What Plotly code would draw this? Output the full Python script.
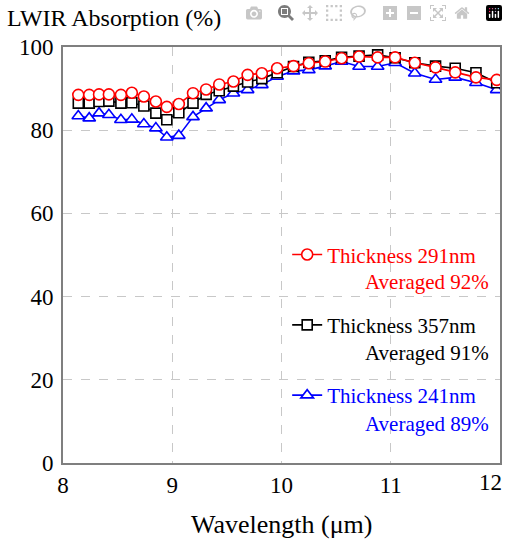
import plotly.graph_objects as go

wavelength = [8.14, 8.24, 8.33, 8.42, 8.53, 8.63, 8.74, 8.85, 8.95, 9.06,
              9.19, 9.31, 9.43, 9.56, 9.69, 9.82, 9.96, 10.11, 10.25, 10.40,
              10.55, 10.71, 10.88, 11.04, 11.22, 11.41, 11.59, 11.78, 11.97]

abs_291 = [88.5, 88.5, 88.6, 88.6, 88.5, 89.0, 88.1, 86.9, 85.6, 86.3,
           88.9, 89.8, 91.0, 91.7, 93.3, 93.7, 94.9, 95.4, 96.1, 96.5,
           97.3, 97.7, 97.5, 97.5, 96.2, 95.1, 93.9, 92.7, 92.1]

abs_357 = [86.5, 86.5, 86.9, 87.0, 86.5, 86.6, 85.8, 84.1, 82.5, 84.2,
           86.5, 88.6, 89.5, 90.6, 91.6, 92.4, 93.8, 95.3, 96.3, 96.7,
           97.5, 97.8, 98.1, 97.4, 96.2, 95.4, 94.9, 93.8, 91.4]

abs_241 = [83.4, 82.9, 84.1, 83.7, 82.5, 82.6, 81.5, 80.5, 78.3, 78.7,
           83.2, 85.3, 87.3, 88.9, 89.7, 90.9, 92.9, 94.2, 94.5, 95.4,
           96.5, 95.3, 95.3, 96.2, 93.7, 92.2, 92.7, 91.4, 89.7]

series_names = ["Thickness 291nm", "Thickness 357nm", "Thickness 241nm"]
series_colors = ["#FF0000", "#000000", "#0000FF"]
averages = ["Averaged 92%", "Averaged 91%", "Averaged 89%"]
x_ticks = [8, 9, 10, 11]
x_last_tick = "12"
y_ticks = [0, 20, 40, 60, 80, 100]

FONT = "Liberation Serif"


def colored(text, color):
    return '<span style="color:%s">%s</span>' % (color, text)


fig = go.Figure()

# draw order: blue, black, red (red on top); legend order red, black, blue
fig.add_trace(go.Scatter(
    x=wavelength, y=abs_241, mode="lines+markers",
    name=colored(series_names[2], series_colors[2]),
    legendgroup="g3", legendrank=3,
    line=dict(color=series_colors[2], width=1.6),
    marker=dict(symbol="triangle-up", size=11, color="white",
                line=dict(color=series_colors[2], width=1.6))))
fig.add_trace(go.Scatter(
    x=wavelength, y=abs_357, mode="lines+markers",
    name=colored(series_names[1], series_colors[1]),
    legendgroup="g2", legendrank=2,
    line=dict(color=series_colors[1], width=1.6),
    marker=dict(symbol="square", size=10, color="white",
                line=dict(color=series_colors[1], width=1.6))))
fig.add_trace(go.Scatter(
    x=wavelength, y=abs_291, mode="lines+markers",
    name=colored(series_names[0], series_colors[0]),
    legendgroup="g1", legendrank=1,
    line=dict(color=series_colors[0], width=1.6),
    marker=dict(symbol="circle", size=11, color="white",
                line=dict(color=series_colors[0], width=1.6))))

fig.update_layout(
    width=508, height=541, autosize=False,
    margin=dict(l=63, r=8, t=47, b=78),
    paper_bgcolor="white", plot_bgcolor="white",
    font=dict(family=FONT, color="black"),
    showlegend=True,
    legend=dict(x=0.513, y=0.332, xanchor="left", yanchor="middle",
                bgcolor="rgba(0,0,0,0)", borderwidth=0,
                traceorder="grouped", tracegroupgap=40,
                font=dict(family=FONT, size=21, color="black"),
                itemwidth=30),
    xaxis=dict(range=[8, 12], tickvals=x_ticks, showgrid=True, automargin=False,
               gridcolor="#c8c8c8", griddash="dash", gridwidth=1,
               showline=True, linecolor="#7f7f7f", linewidth=2, mirror=True,
               zeroline=False, ticks="",
               tickfont=dict(size=23, family=FONT, color="black")),
    yaxis=dict(range=[0, 100], tickvals=y_ticks, showgrid=True, automargin=False,
               gridcolor="#c8c8c8", griddash="dash", gridwidth=1,
               showline=True, linecolor="#7f7f7f", linewidth=2, mirror=True,
               zeroline=False, ticks="", ticklabelstandoff=3,
               tickfont=dict(size=23, family=FONT, color="black")),
)

# extra grid line at 12 is the frame; last tick label kept inside the window
fig.add_annotation(text=x_last_tick, xref="x", yref="paper", x=12, y=0,
                   xanchor="right", yanchor="top", xshift=4, yshift=-5,
                   showarrow=False, font=dict(family=FONT, size=23, color="black"))

fig.add_annotation(text="Wavelength (μm)", xref="paper", yref="paper",
                   x=0.5, y=-0.149, xanchor="center", yanchor="middle",
                   showarrow=False, font=dict(family=FONT, size=26, color="black"))

fig.add_annotation(text="LWIR Absorption (%)", xref="paper", yref="paper",
                   x=-0.126, y=1.07, xanchor="left", yanchor="middle", xshift=-3,
                   showarrow=False, font=dict(family=FONT, size=24, color="black"))

avg_y = [0.435, 0.264, 0.094]
for txt, yy, col in zip(averages, avg_y, series_colors):
    fig.add_annotation(text=txt, xref="paper", yref="paper", x=0.979, y=yy,
                       xanchor="right", yanchor="middle", showarrow=False,
                       font=dict(family=FONT, size=21, color=col))

fig.write_html("out.html", post_script="document.body.style.margin='0';")
